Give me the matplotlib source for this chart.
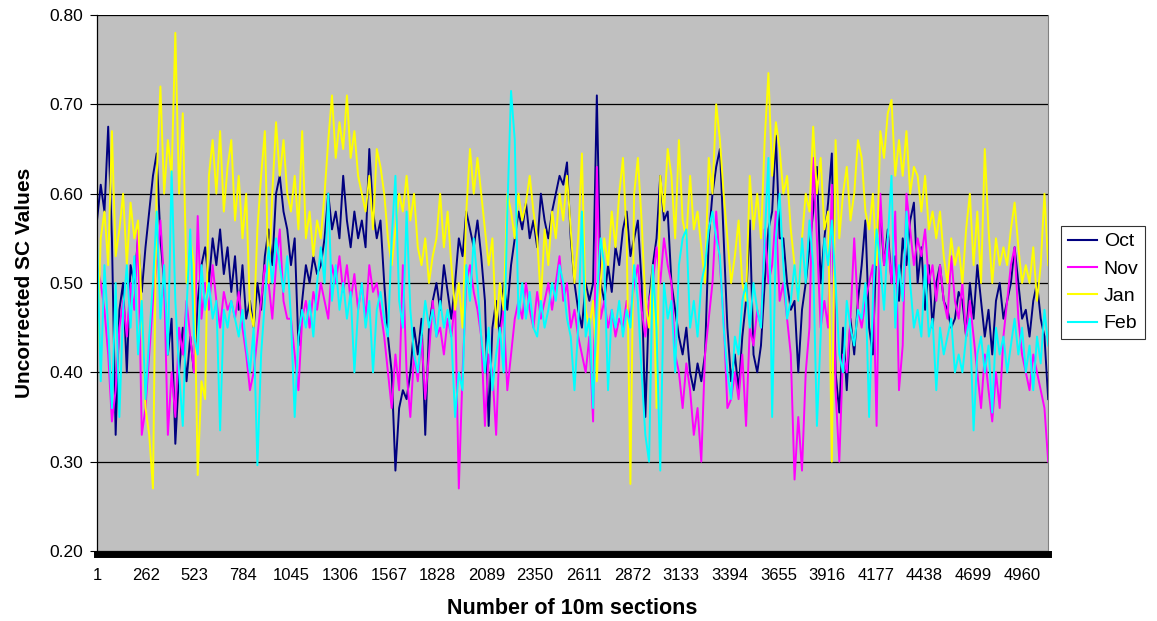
import numpy as np
import matplotlib
matplotlib.use('Agg')
from matplotlib import pyplot as plt

plt.rcParams['font.family'] = ['Liberation Sans', 'DejaVu Sans']

# values, one every 20 sections (starting at section 1)
step = 20

oct_vals = [0.57, 0.61, 0.58, 0.675, 0.55, 0.33, 0.47, 0.50, 0.40, 0.52, 0.50, 0.55, 0.49,
	0.54, 0.58, 0.62, 0.645, 0.55, 0.50, 0.42, 0.46, 0.32, 0.40, 0.45, 0.39, 0.44, 0.40,
	0.48, 0.52, 0.54, 0.50, 0.55, 0.52, 0.56, 0.51, 0.54, 0.49, 0.53, 0.47, 0.52, 0.46,
	0.48, 0.45, 0.50, 0.47, 0.53, 0.56, 0.52, 0.60, 0.62, 0.58, 0.56,
	0.52, 0.55, 0.43, 0.48, 0.52, 0.50, 0.53, 0.51, 0.52, 0.55, 0.60, 0.56, 0.58, 0.55,
	0.62, 0.57, 0.54, 0.58, 0.55, 0.57, 0.54, 0.65, 0.58, 0.55, 0.57, 0.50, 0.44, 0.40,
	0.29, 0.36, 0.38, 0.37, 0.40, 0.45, 0.42, 0.46, 0.33, 0.45, 0.48, 0.50, 0.47, 0.52,
	0.49, 0.46, 0.50, 0.55, 0.53, 0.58, 0.56, 0.54, 0.57,
	0.53, 0.48, 0.34, 0.45, 0.48, 0.44, 0.50, 0.47, 0.52, 0.55, 0.58, 0.56, 0.59, 0.55,
	0.57, 0.54, 0.60, 0.57, 0.55, 0.58, 0.60, 0.62, 0.61, 0.635, 0.55, 0.50, 0.47, 0.45,
	0.50, 0.48, 0.50, 0.71, 0.50, 0.48, 0.52, 0.49, 0.54, 0.52, 0.56, 0.58, 0.53, 0.55,
	0.57, 0.50, 0.35, 0.48, 0.52, 0.55, 0.62, 0.57, 0.58,
	0.50, 0.47, 0.44, 0.42, 0.45, 0.40, 0.38, 0.41, 0.39, 0.42, 0.55, 0.60, 0.63, 0.65,
	0.55, 0.45, 0.39, 0.42, 0.38, 0.44, 0.48, 0.57, 0.42, 0.40, 0.43, 0.50, 0.56, 0.58,
	0.665, 0.55, 0.55, 0.50, 0.47, 0.48, 0.40, 0.47, 0.50, 0.54, 0.58, 0.63, 0.50, 0.55,
	0.59, 0.645, 0.40, 0.355, 0.45, 0.38, 0.46, 0.42, 0.48,
	0.52, 0.57, 0.45, 0.42, 0.55, 0.58, 0.52, 0.56, 0.50, 0.53, 0.48, 0.55, 0.52, 0.57,
	0.59, 0.50, 0.54, 0.47, 0.52, 0.45, 0.50, 0.52, 0.48, 0.47, 0.45, 0.46, 0.49, 0.48,
	0.44, 0.50, 0.46, 0.52, 0.48, 0.44, 0.47, 0.42, 0.48, 0.50, 0.46, 0.48, 0.50, 0.54,
	0.50, 0.46, 0.47, 0.44, 0.48, 0.50, 0.46, 0.44, 0.37]

nov_vals = [0.52, 0.50, 0.47, 0.42, 0.345, 0.38, 0.45, 0.48, 0.44, 0.50, 0.47, 0.56, 0.33,
	0.36, 0.42, 0.48, 0.52, 0.57, 0.50, 0.33, 0.40, 0.35, 0.45, 0.42, 0.48, 0.44, 0.40,
	0.575, 0.46, 0.50, 0.47, 0.52, 0.48, 0.45, 0.49, 0.47, 0.48, 0.46, 0.49, 0.45, 0.42,
	0.38, 0.40, 0.44, 0.48, 0.52, 0.50, 0.46, 0.52, 0.56, 0.48, 0.46,
	0.46, 0.42, 0.38, 0.46, 0.48, 0.45, 0.49, 0.47, 0.50, 0.48, 0.46, 0.52, 0.50, 0.53,
	0.49, 0.52, 0.48, 0.51, 0.47, 0.50, 0.46, 0.52, 0.49, 0.50, 0.47, 0.44, 0.40, 0.36,
	0.42, 0.38, 0.52, 0.40, 0.35, 0.42, 0.39, 0.44, 0.37, 0.42, 0.48, 0.44, 0.45, 0.42,
	0.46, 0.44, 0.48, 0.27, 0.40, 0.50, 0.52, 0.49, 0.47,
	0.44, 0.34, 0.42, 0.40, 0.33, 0.44, 0.47, 0.38, 0.42, 0.46, 0.48, 0.46, 0.50, 0.47,
	0.45, 0.49, 0.46, 0.48, 0.50, 0.47, 0.50, 0.53, 0.48, 0.50, 0.45, 0.47, 0.44, 0.42,
	0.40, 0.44, 0.345, 0.63, 0.46, 0.48, 0.45, 0.47, 0.44, 0.46, 0.45, 0.48, 0.46, 0.50,
	0.52, 0.47, 0.44, 0.48, 0.50, 0.54, 0.50, 0.55, 0.52,
	0.50, 0.42, 0.40, 0.36, 0.41, 0.38, 0.33, 0.36, 0.30, 0.42, 0.46, 0.50, 0.58, 0.52,
	0.46, 0.36, 0.37, 0.40, 0.37, 0.42, 0.34, 0.45, 0.43, 0.47, 0.45, 0.56, 0.50, 0.52,
	0.58, 0.48, 0.50, 0.46, 0.42, 0.28, 0.35, 0.29, 0.40, 0.45, 0.64, 0.55, 0.45, 0.48,
	0.45, 0.61, 0.38, 0.30, 0.42, 0.40, 0.46, 0.55, 0.47,
	0.45, 0.48, 0.50, 0.52, 0.34, 0.60, 0.52, 0.55, 0.50, 0.58, 0.38, 0.43, 0.60, 0.56,
	0.52, 0.55, 0.53, 0.56, 0.50, 0.52, 0.48, 0.52, 0.48, 0.46, 0.53, 0.48, 0.46, 0.50,
	0.44, 0.48, 0.44, 0.40, 0.36, 0.42, 0.38, 0.345, 0.40, 0.36, 0.44, 0.48, 0.52, 0.54,
	0.46, 0.42, 0.40, 0.38, 0.42, 0.40, 0.38, 0.36, 0.30]

jan_vals = [0.42, 0.55, 0.58, 0.52, 0.67, 0.53, 0.56, 0.60, 0.52, 0.59, 0.55, 0.57, 0.47,
	0.36, 0.33, 0.27, 0.62, 0.72, 0.60, 0.66, 0.62, 0.78, 0.60, 0.69, 0.50, 0.55, 0.52,
	0.285, 0.39, 0.37, 0.62, 0.66, 0.60, 0.67, 0.58, 0.63, 0.66, 0.57, 0.62, 0.55, 0.60,
	0.47, 0.45, 0.56, 0.62, 0.67, 0.50, 0.60, 0.68, 0.62, 0.66, 0.60,
	0.58, 0.62, 0.56, 0.67, 0.55, 0.58, 0.53, 0.57, 0.55, 0.60, 0.66, 0.71, 0.64, 0.68,
	0.65, 0.71, 0.64, 0.67, 0.62, 0.60, 0.58, 0.62, 0.56, 0.65, 0.63, 0.60, 0.55, 0.52,
	0.56, 0.60, 0.58, 0.62, 0.57, 0.60, 0.54, 0.52, 0.55, 0.50, 0.53, 0.55, 0.60, 0.54,
	0.58, 0.52, 0.47, 0.50, 0.45, 0.58, 0.65, 0.60, 0.64,
	0.60, 0.56, 0.52, 0.55, 0.45, 0.50, 0.47, 0.60, 0.58, 0.55, 0.60, 0.57, 0.59, 0.62,
	0.58, 0.55, 0.48, 0.56, 0.52, 0.58, 0.55, 0.60, 0.57, 0.62, 0.56, 0.50, 0.55, 0.645,
	0.47, 0.45, 0.48, 0.39, 0.50, 0.55, 0.52, 0.58, 0.54, 0.60, 0.64, 0.55, 0.275, 0.60,
	0.64, 0.57, 0.48, 0.45, 0.52, 0.36, 0.62, 0.58, 0.65,
	0.62, 0.55, 0.66, 0.57, 0.55, 0.62, 0.56, 0.58, 0.54, 0.50, 0.64, 0.60, 0.70, 0.66,
	0.60, 0.55, 0.50, 0.53, 0.57, 0.50, 0.48, 0.62, 0.56, 0.60, 0.55, 0.66, 0.735, 0.62,
	0.68, 0.65, 0.60, 0.62, 0.56, 0.52, 0.48, 0.55, 0.60, 0.58, 0.675, 0.60, 0.64, 0.56,
	0.58, 0.30, 0.66, 0.55, 0.60, 0.63, 0.57, 0.60, 0.66,
	0.64, 0.58, 0.56, 0.60, 0.52, 0.67, 0.64, 0.69, 0.705, 0.62, 0.66, 0.62, 0.67, 0.60,
	0.63, 0.62, 0.58, 0.62, 0.56, 0.58, 0.55, 0.58, 0.53, 0.50, 0.55, 0.52, 0.54, 0.50,
	0.56, 0.60, 0.52, 0.58, 0.50, 0.65, 0.56, 0.50, 0.55, 0.52, 0.54, 0.52, 0.56, 0.59,
	0.54, 0.50, 0.52, 0.50, 0.54, 0.48, 0.52, 0.60, 0.52]

feb_vals = [0.55, 0.39, 0.52, 0.45, 0.36, 0.50, 0.35, 0.47, 0.52, 0.45, 0.53, 0.42, 0.48,
	0.37, 0.44, 0.50, 0.58, 0.46, 0.52, 0.42, 0.625, 0.48, 0.40, 0.34, 0.47, 0.56, 0.44,
	0.42, 0.52, 0.47, 0.50, 0.46, 0.48, 0.335, 0.47, 0.45, 0.48, 0.46, 0.44, 0.47, 0.43,
	0.40, 0.45, 0.296, 0.42, 0.48, 0.54, 0.50, 0.55, 0.52, 0.49, 0.53,
	0.46, 0.35, 0.44, 0.47, 0.45, 0.48, 0.44, 0.50, 0.54, 0.50, 0.60, 0.48, 0.52, 0.47,
	0.50, 0.46, 0.49, 0.40, 0.47, 0.50, 0.45, 0.48, 0.40, 0.47, 0.49, 0.46, 0.44, 0.55,
	0.62, 0.48, 0.45, 0.58, 0.47, 0.42, 0.40, 0.44, 0.48, 0.45, 0.47, 0.44, 0.48, 0.45,
	0.47, 0.44, 0.35, 0.40, 0.38, 0.52, 0.48, 0.55, 0.50,
	0.44, 0.40, 0.45, 0.38, 0.42, 0.45, 0.40, 0.58, 0.715, 0.66, 0.46, 0.50, 0.46, 0.49,
	0.45, 0.44, 0.48, 0.45, 0.47, 0.50, 0.48, 0.52, 0.50, 0.46, 0.44, 0.38, 0.45, 0.58,
	0.44, 0.46, 0.36, 0.48, 0.55, 0.52, 0.38, 0.47, 0.45, 0.48, 0.44, 0.47, 0.45, 0.52,
	0.48, 0.40, 0.33, 0.30, 0.52, 0.45, 0.29, 0.50, 0.46,
	0.48, 0.40, 0.52, 0.55, 0.56, 0.45, 0.48, 0.44, 0.50, 0.52, 0.56, 0.58, 0.55, 0.53,
	0.45, 0.40, 0.37, 0.44, 0.42, 0.48, 0.50, 0.45, 0.50, 0.47, 0.45, 0.55, 0.64, 0.35,
	0.55, 0.60, 0.52, 0.46, 0.48, 0.52, 0.48, 0.55, 0.50, 0.57, 0.52, 0.34, 0.44, 0.55,
	0.52, 0.57, 0.50, 0.42, 0.40, 0.48, 0.45, 0.43, 0.47,
	0.46, 0.50, 0.35, 0.48, 0.56, 0.52, 0.47, 0.55, 0.62, 0.45, 0.52, 0.48, 0.58, 0.50,
	0.45, 0.47, 0.44, 0.52, 0.44, 0.46, 0.38, 0.45, 0.42, 0.44, 0.46, 0.40, 0.42, 0.40,
	0.44, 0.46, 0.335, 0.42, 0.44, 0.40, 0.43, 0.355, 0.45, 0.42, 0.44, 0.40, 0.43, 0.46,
	0.42, 0.45, 0.40, 0.43, 0.38, 0.44, 0.41, 0.47, 0.43]

series = [('Oct', oct_vals, '#000080'),
	('Nov', nov_vals, '#FF00FF'),
	('Jan', jan_vals, '#FFFF00'),
	('Feb', feb_vals, '#00FFFF')]

tick_labels = [1, 262, 523, 784, 1045, 1306, 1567, 1828, 2089, 2350, 2611, 2872,
	3133, 3394, 3655, 3916, 4177, 4438, 4699, 4960]

fig = plt.figure(figsize=(11.57, 6.21), dpi=100)
ax = fig.add_axes([97 / 1157, 70 / 621, 951 / 1157, 536 / 621])
ax.set_facecolor('#C0C0C0')

for name, vals, col in series:
	x = 1 + step * np.arange(len(vals))
	ax.plot(x, vals, color=col, lw=1.4, label=name)

ax.set_xlim(1, 5100)
ax.set_ylim(0.20, 0.80)
ax.set_yticks(np.arange(0.20, 0.81, 0.10))
ax.set_yticklabels([f'{v:.2f}' for v in np.arange(0.20, 0.81, 0.10)])
ax.set_xticks(tick_labels)
ax.set_xticklabels([str(t) for t in tick_labels])
ax.yaxis.grid(True, color='black', lw=0.9)
ax.set_axisbelow(True)

ax.tick_params(axis='y', direction='out', length=5, width=0.8, labelsize=12.5, pad=5)
ax.tick_params(axis='x', length=0, labelsize=12, pad=10)

ax.spines['top'].set_visible(False)
ax.spines['right'].set_color('#808080')
ax.spines['left'].set_linewidth(0.9)
ax.spines['bottom'].set_linewidth(5)
ax.spines['bottom'].set_position(('outward', 2))

ax.set_xlabel('Number of 10m sections', fontsize=15.5, fontweight='bold', labelpad=11)
ax.set_ylabel('Uncorrected SC Values', fontsize=15, fontweight='bold', labelpad=11)

leg = fig.legend(loc='upper left', bbox_to_anchor=(1061 / 1157, 1 - 226 / 621),
	fontsize=14, frameon=True, fancybox=False, handlelength=1.5,
	borderpad=0.35, labelspacing=0.5, handletextpad=0.35, borderaxespad=0)
leg.get_frame().set_edgecolor('black')
leg.get_frame().set_linewidth(0.8)
for line in leg.get_lines():
	line.set_linewidth(1.5)

fig.savefig('out.png', dpi=100)
